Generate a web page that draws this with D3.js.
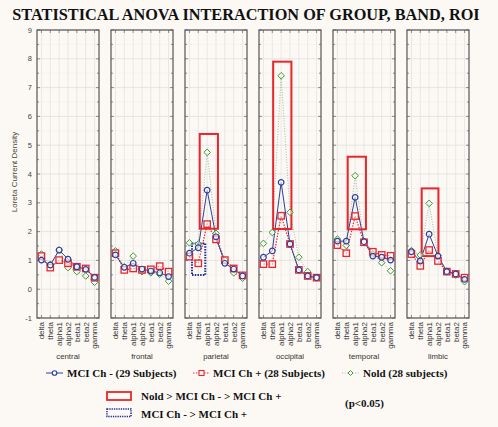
<!DOCTYPE html>
<html><head><meta charset="utf-8">
<script src="https://cdn.jsdelivr.net/npm/d3@7"></script>
<style>
html,body{margin:0;padding:0;background:#fcf9f5;}
svg{display:block;}
</style></head>
<body><svg id="c" width="498" height="427"></svg>
<script>
const regions = ["central","frontal","parietal","occipital","temporal","limbic"];
const bands = ["delta","theta","alpha1","alpha2","beta1","beta2","gamma"];
const yTicks = [9,8,7,6,5,4,3,2,1,0,-1];

// values per region, in band order
const mciMinus = [
  [1.01,0.84,1.36,1.04,0.78,0.69,0.41],
  [1.19,0.76,0.90,0.70,0.63,0.57,0.44],
  [1.25,1.44,3.44,1.82,0.90,0.70,0.46],
  [1.11,1.33,3.71,1.57,0.67,0.46,0.40],
  [1.67,1.67,3.19,1.65,1.15,1.11,1.01],
  [1.30,0.98,1.91,1.15,0.61,0.53,0.34]
];
const mciPlus = [
  [1.15,0.75,1.01,0.90,0.78,0.72,0.40],
  [1.25,0.67,0.72,0.67,0.69,0.80,0.61],
  [1.13,0.90,2.26,1.73,1.01,0.72,0.48],
  [0.87,0.87,2.55,1.57,0.67,0.46,0.40],
  [1.53,1.25,2.54,1.63,1.30,1.19,1.16],
  [1.22,0.81,1.36,0.98,0.61,0.53,0.40]
];
const nold = [
  [1.22,0.86,1.36,0.75,0.61,0.46,0.24],
  [1.33,0.78,1.15,0.61,0.57,0.52,0.28],
  [1.61,1.57,4.75,1.94,1.01,0.57,0.38],
  [1.59,1.97,7.41,2.67,1.11,0.61,0.41],
  [1.74,1.52,3.94,1.65,1.22,0.92,0.64],
  [1.34,1.19,2.98,1.16,0.63,0.49,0.26]
];
const seriesNames = ["MCI Ch - (29 Subjects)","MCI Ch + (28 Subjects)","Nold (28 subjects)"];
// significance boxes: region, band-index span, value span
const boxes = [
  {region:"parietal", type:"red", from:1.16, to:3.22, low:2.1, high:5.39},
  {region:"occipital", type:"red", from:1.1, to:3.16, low:2.09, high:7.9},
  {region:"temporal", type:"red", from:1.16, to:3.22, low:2.08, high:4.6},
  {region:"limbic", type:"red", from:1.16, to:3.05, low:1.15, high:3.5},
  {region:"parietal", type:"blue", from:0.29, to:1.79, low:0.49, high:1.59}
];
const boxLegend = ["Nold > MCI Ch - > MCI Ch +","MCI Ch - > MCI Ch +"];
const pText = "(p<0.05)";
const title = "STATISTICAL ANOVA INTERACTION OF GROUP, BAND, ROI";
const yTitle = "Loreta Current Density";

const svg = d3.select("#c");
const BLUE="#2d3e98", RED="#e8262c", GREEN="#3d9a35", GLINE="#a3bf9d";
const serif = "'Liberation Serif','Times New Roman',serif";
const sans = "'Liberation Sans',Arial,sans-serif";

svg.append("rect").attr("width",498).attr("height",427).attr("fill","#fcf9f5");

svg.append("text").attr("x",246).attr("y",20).attr("text-anchor","middle")
  .attr("font-family",serif).attr("font-weight","bold").attr("font-size",16.3)
  .attr("fill","#111").text(title);

const px = d3.scaleBand().domain(regions).range([37,469]).paddingInner(0.162).paddingOuter(0);
const bx = d3.scalePoint().domain(bands).range([0,px.bandwidth()]).padding(0.5);
const y = d3.scaleLinear().domain([-1,9]).range([318,30]);
const step = bx.step();
const bxIdx = i => bx(bands[0]) + i*step;

const series = [
  {data:nold, color:GLINE, mcolor:GREEN, dash:"1,1.6", w:1, marker:"diamond"},
  {data:mciPlus, color:RED, mcolor:RED, dash:"1.4,1.4", w:1.2, marker:"square"},
  {data:mciMinus, color:BLUE, mcolor:BLUE, dash:null, w:1, marker:"circle"}
];

regions.forEach((r,ri)=>{
  const g = svg.append("g").attr("transform",`translate(${px(r)},0)`);
  const W = px.bandwidth();
  // grid
  g.selectAll(".hg").data(d3.range(-1,9.01,0.5)).join("line")
    .attr("x1",0).attr("x2",W).attr("y1",d=>y(d)).attr("y2",d=>y(d))
    .attr("stroke",d=>Number.isInteger(d)?"#dcdcdc":"#f0f0f0").attr("stroke-width",0.7);
  g.selectAll(".vg").data(bands).join("line")
    .attr("x1",d=>bx(d)).attr("x2",d=>bx(d)).attr("y1",y(9)).attr("y2",y(-1))
    .attr("stroke","#e0e0e0").attr("stroke-width",0.7);
  // minor ticks
  const mt = d3.range(-1,9.01,0.5);
  g.selectAll(".lt").data(mt).join("line").attr("x1",0).attr("x2",d=>Number.isInteger(d)?3:2)
    .attr("y1",d=>y(d)).attr("y2",d=>y(d)).attr("stroke","#666").attr("stroke-width",0.7);
  g.selectAll(".rt").data(mt).join("line").attr("x1",W).attr("x2",d=>W-(Number.isInteger(d)?3:2))
    .attr("y1",d=>y(d)).attr("y2",d=>y(d)).attr("stroke","#666").attr("stroke-width",0.7);
  g.selectAll(".tt").data(bands).join("line").attr("x1",d=>bx(d)).attr("x2",d=>bx(d))
    .attr("y1",y(9)).attr("y2",y(9)+3).attr("stroke","#666").attr("stroke-width",0.7);
  g.selectAll(".bt").data(bands).join("line").attr("x1",d=>bx(d)).attr("x2",d=>bx(d))
    .attr("y1",y(-1)).attr("y2",y(-1)-3).attr("stroke","#666").attr("stroke-width",0.7);
  // border
  g.append("rect").attr("x",0).attr("y",y(9)).attr("width",W).attr("height",y(-1)-y(9))
    .attr("fill","none").attr("stroke","#555").attr("stroke-width",1.2);

  // lines
  const line = d3.line().x((d,i)=>bx(bands[i])).y(d=>y(d));
  series.forEach(s=>{
    const p = g.append("path").attr("d",line(s.data[ri])).attr("fill","none")
      .attr("stroke",s.color).attr("stroke-width",s.w);
    if(s.dash) p.attr("stroke-dasharray",s.dash);
  });
  // boxes
  boxes.filter(b=>b.region===r).forEach(b=>{
    const rr = g.append("rect").attr("x",bxIdx(b.from)).attr("width",bxIdx(b.to)-bxIdx(b.from))
      .attr("y",y(b.high)).attr("height",y(b.low)-y(b.high)).attr("fill","none");
    if(b.type==="red") rr.attr("stroke",RED).attr("stroke-width",2);
    else rr.attr("stroke","#1f2e90").attr("stroke-width",2).attr("stroke-dasharray","1.5,1.2");
  });
  // markers
  series.forEach(s=>{
    const pts = g.selectAll(null).data(s.data[ri]).join("g")
      .attr("transform",(d,i)=>`translate(${bx(bands[i])},${y(d)})`);
    if(s.marker==="circle") pts.append("circle").attr("r",2.8).attr("fill","#fff").attr("fill-opacity",0.6)
      .attr("stroke",s.mcolor).attr("stroke-width",1.2);
    if(s.marker==="square") pts.append("rect").attr("x",-3.2).attr("y",-3.2).attr("width",6.4).attr("height",6.4)
      .attr("fill","#fff").attr("fill-opacity",0.5).attr("stroke",s.mcolor).attr("stroke-width",1.3);
    if(s.marker==="diamond") pts.append("path").attr("d","M0,-3.3L3.3,0L0,3.3L-3.3,0Z")
      .attr("fill","#fff").attr("fill-opacity",0.5).attr("stroke",s.mcolor).attr("stroke-width",1);
  });
  // x labels
  g.selectAll(".xl").data(bands).join("text")
    .attr("transform",d=>`translate(${bx(d)+2.8},${y(-1)+4}) rotate(-90)`)
    .attr("text-anchor","end").attr("font-family",sans).attr("font-size",8).attr("fill","#333")
    .text(d=>d);
  g.append("text").attr("x",W/2).attr("y",359).attr("text-anchor","middle")
    .attr("font-family",sans).attr("font-size",7.8).attr("fill","#333").text(r);
});

// y axis labels
svg.selectAll(".yl").data(yTicks).join("text").attr("x",32).attr("y",d=>y(d)+2.5)
  .attr("text-anchor","end").attr("font-family",sans).attr("font-size",7.5).attr("fill","#444").text(d=>d);
svg.append("text").attr("transform",`translate(17,172) rotate(-90)`).attr("text-anchor","middle")
  .attr("font-family",sans).attr("font-size",8).attr("fill","#444").text(yTitle);

// legend row 1
const leg = [
  {x:46, tx:67, s:series[2]},
  {x:193, tx:213, s:series[1]},
  {x:342, tx:363, s:series[0]}
];
const legTexts = [seriesNames[0],seriesNames[1],seriesNames[2]];
leg.forEach((l,i)=>{
  const ly = 373;
  const ln = svg.append("line").attr("x1",l.x).attr("x2",l.x+17).attr("y1",ly).attr("y2",ly)
    .attr("stroke",l.s.color).attr("stroke-width",l.s.w);
  if(l.s.dash) ln.attr("stroke-dasharray",l.s.dash);
  const cx = l.x+8.5;
  if(l.s.marker==="circle") svg.append("circle").attr("cx",cx).attr("cy",ly).attr("r",2.3).attr("fill","#fff").attr("stroke",BLUE).attr("stroke-width",1.1);
  if(l.s.marker==="square") svg.append("rect").attr("x",cx-2.5).attr("y",ly-2.5).attr("width",5).attr("height",5).attr("fill","#fff").attr("stroke",RED).attr("stroke-width",1.1);
  if(l.s.marker==="diamond") svg.append("path").attr("d",`M${cx},${ly-2.5}L${cx+2.5},${ly}L${cx},${ly+2.5}L${cx-2.5},${ly}Z`).attr("fill","#fff").attr("stroke",GREEN).attr("stroke-width",1);
  svg.append("text").attr("x",l.tx).attr("y",ly+3.8).attr("font-family",serif).attr("font-weight","bold")
    .attr("font-size",11).attr("fill","#111").text(legTexts[i]);
});
// legend rows 2-3
svg.append("rect").attr("x",107).attr("y",392).attr("width",24).attr("height",8).attr("fill","none").attr("stroke",RED).attr("stroke-width",1.8);
svg.append("text").attr("x",141).attr("y",400).attr("font-family",serif).attr("font-weight","bold")
  .attr("font-size",11).attr("fill","#111").text(boxLegend[0]);
svg.append("rect").attr("x",107).attr("y",409).attr("width",24).attr("height",7.5).attr("fill","none").attr("stroke","#1f2e90").attr("stroke-width",1.5).attr("stroke-dasharray","1.3,1");
svg.append("text").attr("x",141).attr("y",418).attr("font-family",serif).attr("font-weight","bold")
  .attr("font-size",11).attr("fill","#111").text(boxLegend[1]);
svg.append("text").attr("x",345).attr("y",407).attr("font-family",serif).attr("font-weight","bold")
  .attr("font-size",11).attr("fill","#111").text(pText);
</script></body></html>
